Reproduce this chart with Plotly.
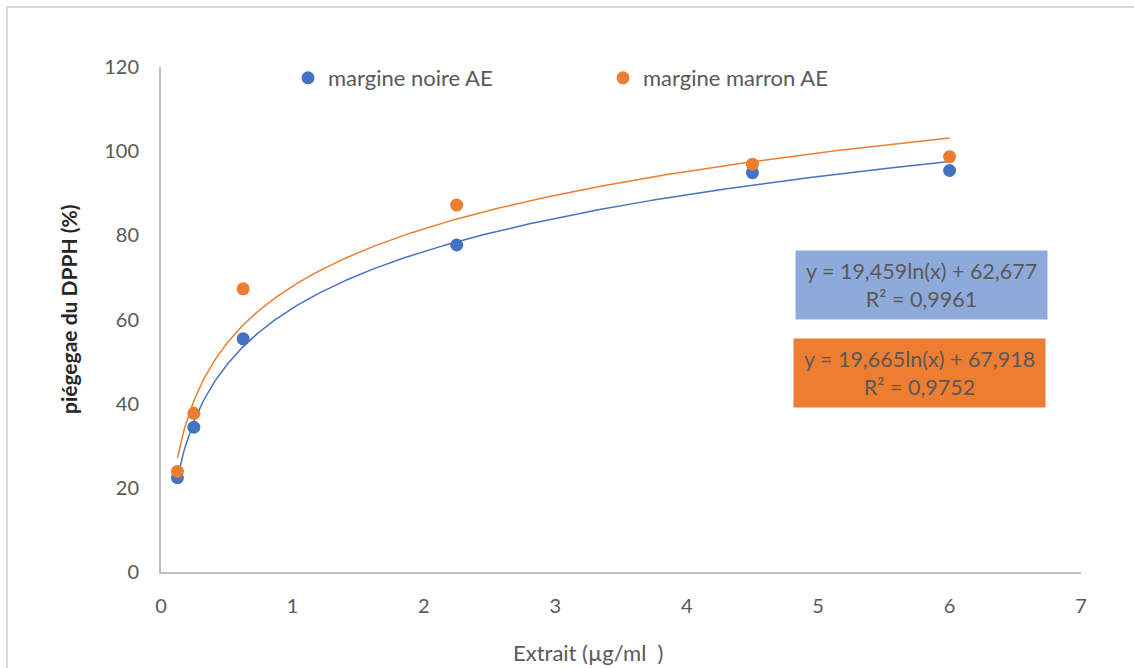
import numpy as np
import plotly.graph_objects as go

# Concentrations of extract (µg/ml) and DPPH scavenging (%)
concentration = [0.125, 0.25, 0.625, 2.25, 4.5, 6.0]
noire_ae = [22.4, 34.4, 55.4, 77.7, 94.9, 95.4]
marron_ae = [23.9, 37.7, 67.3, 87.2, 96.9, 98.7]

# Logarithmic trend lines: y = a*ln(x) + b
noire_fit = (19.459, 62.677, 0.9961)
marron_fit = (19.665, 67.918, 0.9752)

series_names = ["margine noire AE", "margine marron AE"]
blue = "#4472C4"
orange = "#ED7D31"
text_grey = "#595959"
font_family = "Lato, Calibri, sans-serif"

W, H = 1134, 668
L, R, T, B = 161, 53, 67, 96
pw, ph = W - L - R, H - T - B


def px_x(p):
    return (p - L) / pw


def px_y(p):
    return (H - B - p) / ph


xfit = np.linspace(min(concentration), max(concentration), 400)

fig = go.Figure()
for (a, b, _), color in [(noire_fit, blue), (marron_fit, orange)]:
    fig.add_trace(go.Scatter(
        x=xfit, y=a * np.log(xfit) + b, mode="lines",
        line=dict(color=color, width=1.5), showlegend=False, hoverinfo="skip"))

for name, vals, color in [(series_names[0], noire_ae, blue), (series_names[1], marron_ae, orange)]:
    fig.add_trace(go.Scatter(
        x=concentration, y=vals, mode="markers", name=name,
        marker=dict(color=color, size=13)))


def fmt(v, nd):
    return f"{v:.{nd}f}".replace(".", ",")


def eq_text(fit):
    a, b, r2 = fit
    return f"y = {fmt(a, 3)}ln(x) + {fmt(b, 3)}<br>R² = {fmt(r2, 4)}"


boxes = [
    (noire_fit, "#8EAADB", 795, 250),
    (marron_fit, orange, 793, 338),
]
annotations = []
for fit, bg, bx, by in boxes:
    annotations.append(dict(
        x=px_x(bx), y=px_y(by), xref="paper", yref="paper",
        xanchor="left", yanchor="top", showarrow=False,
        text=eq_text(fit), align="center", width=251, height=68,
        bgcolor=bg, borderpad=0,
        font=dict(family=font_family, size=21.5, color=text_grey)))

annotations.append(dict(
    x=px_x(588), y=px_y(652), xref="paper", yref="paper",
    xanchor="center", yanchor="middle", showarrow=False,
    text="Extrait (µg/ml  )",
    font=dict(family=font_family, size=22, color=text_grey)))
annotations.append(dict(
    x=px_x(68), y=px_y(309), xref="paper", yref="paper",
    xanchor="center", yanchor="middle", showarrow=False, textangle=-90,
    text="<b>piégegae du DPPH (%)</b>",
    font=dict(family=font_family, size=21, color="#262626")))

fig.update_layout(
    width=W, height=H,
    margin=dict(l=L, r=R, t=T, b=B),
    paper_bgcolor="white", plot_bgcolor="white",
    font=dict(family=font_family, size=20, color=text_grey),
    showlegend=True,
    legend=dict(
        orientation="h", x=px_x(288), y=px_y(78), xanchor="left", yanchor="middle",
        entrywidth=270, entrywidthmode="pixels", itemwidth=30,
        font=dict(family=font_family, size=22, color=text_grey),
        bgcolor="rgba(0,0,0,0)"),
    annotations=annotations,
    shapes=[dict(
        type="rect", xref="paper", yref="paper",
        x0=px_x(7), y0=px_y(H + 20), x1=px_x(W + 20), y1=px_y(7),
        line=dict(color="#D9D9D9", width=2), fillcolor="rgba(0,0,0,0)", layer="below")],
)

fig.update_xaxes(
    range=[0, 7], tickvals=list(range(0, 8)), showgrid=False, zeroline=False,
    showline=True, linecolor="#BFBFBF", linewidth=2, ticks="",
    tickfont=dict(family=font_family, size=20, color=text_grey), ticklabelstandoff=15)
fig.update_yaxes(
    range=[0, 120], tickvals=list(range(0, 121, 20)), showgrid=False, zeroline=False,
    showline=True, linecolor="#BFBFBF", linewidth=2, ticks="",
    tickfont=dict(family=font_family, size=20, color=text_grey), ticklabelstandoff=16)

fig.write_html("out.html")
